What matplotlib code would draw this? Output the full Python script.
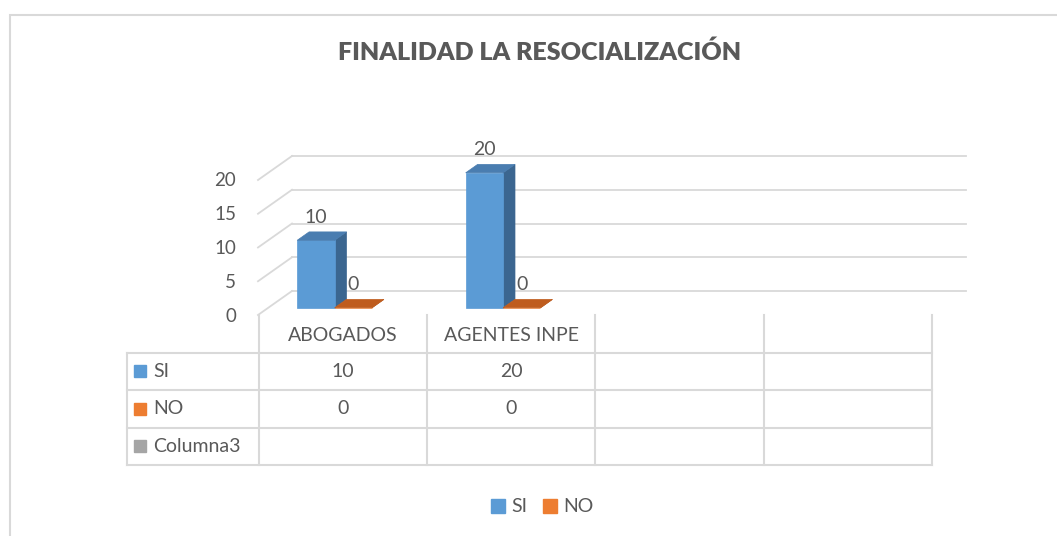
import matplotlib
matplotlib.use("Agg")
import matplotlib.pyplot as plt
from matplotlib.patches import Polygon, Rectangle, Patch

# data
categories = ['ABOGADOS', 'AGENTES INPE']
si_values = [10, 20]
no_values = [0, 0]
row_labels = ['SI', 'NO', 'Columna3']
n_slots = 4
yticks = [0, 5, 10, 15, 20]

plt.rcParams['font.family'] = ['Lato', 'DejaVu Sans']
TXT = '#595959'
GRID = '#D9D9D9'
C_SI = ('#5B9BD5', '#4A7DB0', '#3B6690')   # front, top, side
C_NO = ('#ED7D31', '#BF5C1D', '#A94F16')
C_C3 = '#A5A5A5'

W, H = 1057, 536
fig = plt.figure(figsize=(W / 100, H / 100), dpi=100)

# outer chart border (runs off the right/bottom edge)
fig.add_artist(Rectangle((10 / W, -0.1), 1.2, 1.1 - 15 / H, transform=fig.transFigure,
                         fill=False, edgecolor=GRID, lw=1.5))

fig.text(539.5 / W, 1 - 52 / H, 'FINALIDAD LA RESOCIALIZACIÓN', ha='center', va='center',
         fontsize=18, fontweight='heavy', color=TXT)

# 3D plot area (front plane)
ax = fig.add_axes([258 / W, (H - 315) / H, 674 / W, 135 / H])
ax.set_xlim(0, n_slots)
ax.set_ylim(0, 20)
ax.axis('off')

XU = 674 / n_slots       # pixels per category
YU = 135 / 20            # pixels per value unit
DX, DY = 34 / XU, 24 / YU  # depth of floor in data units


def P(x, y, d):
    return (x + d * DX, y + d * DY)


for v in yticks:
    a, b = P(0, v, 1), P(n_slots, v, 1)
    ax.plot([a[0], b[0]], [a[1], b[1]], color=GRID, lw=1.3, clip_on=False, zorder=1)
    c = P(0, v, 0)
    ax.plot([c[0], a[0]], [c[1], a[1]], color=GRID, lw=1.3, clip_on=False, zorder=1)
    ax.annotate(str(v), xy=(0, v), xytext=(-22, -1), textcoords='offset pixels',
                ha='right', va='center', fontsize=13.5, color=TXT, annotation_clip=False)

BW = 0.222
d0, d1 = 0.30, 0.65


def bar3d(x0, v, cols):
    x1 = x0 + BW
    front = [P(x0, 0, d0), P(x1, 0, d0), P(x1, v, d0), P(x0, v, d0)]
    top = [P(x0, v, d0), P(x1, v, d0), P(x1, v, d1), P(x0, v, d1)]
    side = [P(x1, 0, d0), P(x1, 0, d1), P(x1, v, d1), P(x1, v, d0)]
    for pts, c in ((side, cols[2]), (front, cols[0]), (top, cols[1])):
        ax.add_patch(Polygon(pts, closed=True, facecolor=c, edgecolor=c, lw=0.5,
                             clip_on=False, zorder=3))
    xt, yt = P(x0 + BW / 2, v, d1)
    ax.annotate(str(v), xy=(xt, yt), xytext=(-12, 9), textcoords='offset pixels',
                ha='center', va='baseline', fontsize=14, color=TXT,
                annotation_clip=False, zorder=5)


for i in range(len(categories)):
    bar3d(i + 0.172, si_values[i], C_SI)
    bar3d(i + 0.172 + BW, no_values[i], C_NO)

# data table
tax = fig.add_axes([127 / W, (H - 465) / H, 805 / W, 150 / H])
xmin = -132 / XU
tax.set_xlim(xmin, n_slots)
tax.set_ylim(4, 0)
tax.axis('off')
for k in range(n_slots + 1):
    tax.plot([k, k], [0, 4], color=GRID, lw=1.5, clip_on=False)
tax.plot([xmin, xmin], [1, 4], color=GRID, lw=1.5, clip_on=False)
for r in range(1, 5):
    tax.plot([xmin, n_slots], [r, r], color=GRID, lw=1.5, clip_on=False)

for i, cat in enumerate(categories):
    tax.text(i + 0.5, 0.55, cat, ha='center', va='center', fontsize=14, color=TXT)
    tax.text(i + 0.5, 1.5, str(si_values[i]), ha='center', va='center', fontsize=14, color=TXT)
    tax.text(i + 0.5, 2.5, str(no_values[i]), ha='center', va='center', fontsize=14, color=TXT)

for r, (lab, col) in enumerate(zip(row_labels, [C_SI[0], C_NO[0], C_C3])):
    tax.plot([xmin + 13 / XU], [r + 1.5], marker='s', ms=9, color=col, mec=col, clip_on=False)
    tax.text(xmin + 26 / XU, r + 1.5, lab, ha='left', va='center', fontsize=14, color=TXT)

handles = [Patch(facecolor=C_SI[0], edgecolor=C_SI[0], label='SI'),
           Patch(facecolor=C_NO[0], edgecolor=C_NO[0], label='NO')]
fig.legend(handles=handles, loc='center', bbox_to_anchor=(542.5 / W, 1 - 507 / H), ncol=2,
           frameon=False, fontsize=14, labelcolor=TXT, handlelength=0.7, handleheight=0.7,
           handletextpad=0.35, columnspacing=0.8)

fig.savefig('out.png', dpi=100)
